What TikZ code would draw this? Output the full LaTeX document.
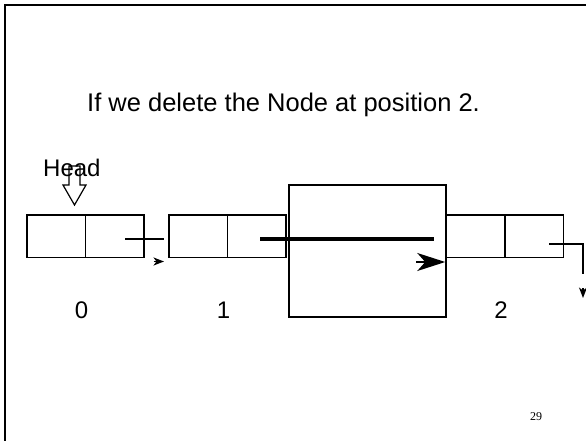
\documentclass[tikz,border=0pt]{standalone}
\usepackage{fontspec}
\setmainfont{Liberation Sans}
\newfontfamily\slidenumfont{Liberation Serif}
\usetikzlibrary{arrows.meta,positioning}

\tikzset{
  cell/.style={draw,line width=1.5pt,minimum width=58.5pt,minimum height=42.5pt,inner sep=0pt,outer sep=0pt},
  link/.style={line width=1.5pt},
  smalltip/.style={-{Stealth[length=10.5pt,width=8pt,inset=3pt]}},
  bigtip/.style={-{Stealth[length=28pt,width=18pt,inset=8pt]}},
  poslabel/.style={font=\fontsize{24}{28}\selectfont,anchor=base,inner sep=0pt}
}

\begin{document}
\begin{tikzpicture}[x=1pt,y=-1pt]
  \useasboundingbox (0,0) rectangle (586,441);
  \clip (0,0) rectangle (586,441);
  % slide frame
  \draw[line width=2pt] (4.5,450) -- (4.5,5.5) -- (600,5.5);
  \node[anchor=base west,inner sep=0pt,font=\fontsize{25.5}{30}\selectfont] (title) at (87,112) {If we delete the Node at position 2.};
  % list nodes
  \foreach \name/\x/\lbl in {n0/27/0,n1/169/1,n2/446.5/2}
  {\node[cell,anchor=north west] (\name d) at (\x,215) {};
   \node[cell,right=0pt of \name d] (\name p) {};
   \node[poslabel] (\name l) at ([xshift=-4pt]\name d.east |- 0,318) {\lbl};}
  % removed node
  \node[draw,line width=1.5pt,minimum width=157pt,minimum height=132pt,inner sep=0pt] (gone) at (367.5,251) {};
  % head pointer
  \node[anchor=base west,inner sep=0pt,font=\fontsize{24}{28}\selectfont] (head) at (43,176) {Head};
  \draw[line width=1.2pt,line join=miter] (69,166) -- (80,166) -- (80,185) -- (86,185) -- (74.5,205) -- (63,185) -- (69,185) -- cycle;
  % next pointers
  \coordinate (t0) at (125,239);
  \coordinate (h0) at (153.5,261.5);
  \draw[link] (t0) -- ([xshift=-5pt]t0 -| n1d.west);
  \draw[link,smalltip] (h0) -- ([xshift=-5pt]h0 -| n1d.west);
  \coordinate (t1) at (260,239);
  \coordinate (h1) at (416,262);
  \draw[line width=3.5pt] (t1) -- ([xshift=-13pt]t1 -| gone.east);
  \draw[link,bigtip] (h1) -- ([xshift=-1.5pt]h1 -| gone.east);
  \coordinate (t2) at (549,244);
  \coordinate (e2) at (583,274);
  \coordinate (h2) at (583,288);
  \draw[link] (t2) -| (e2);
  \draw[link,smalltip] (h2) -- ++(0,10);
  % slide number
  \node[anchor=base,inner sep=0pt,font=\slidenumfont\fontsize{12}{14}\selectfont] (num) at (536,420) {29};
\end{tikzpicture}
\end{document}
